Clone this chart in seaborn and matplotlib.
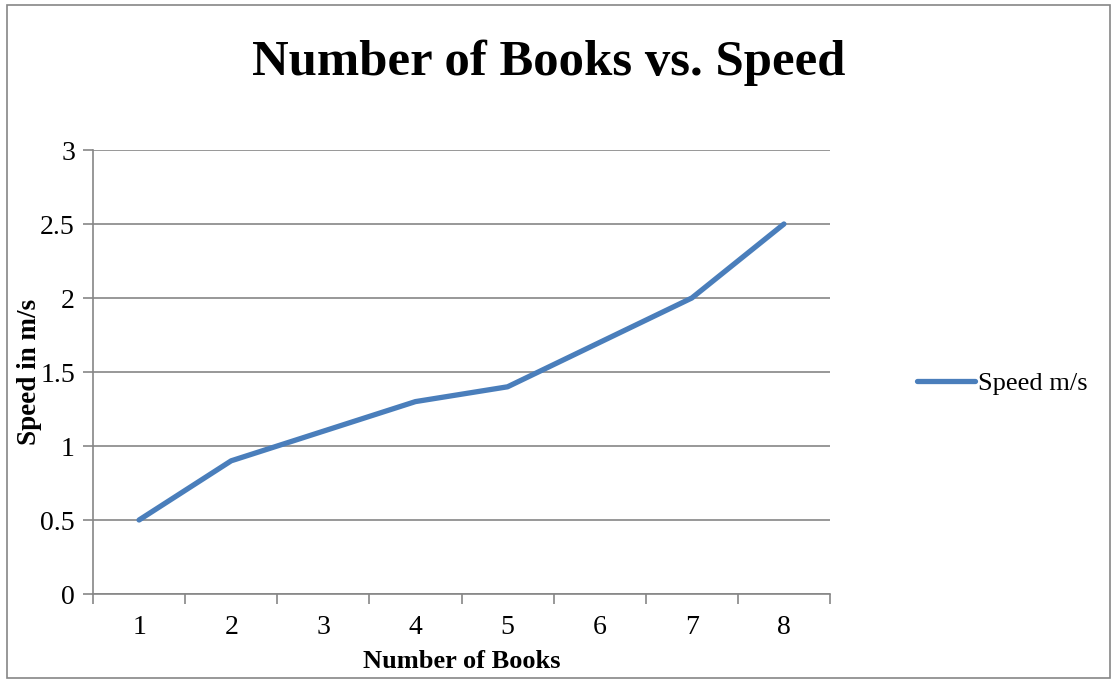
import matplotlib
matplotlib.use("Agg")
import matplotlib.pyplot as plt
import seaborn as sns
import pandas as pd
from matplotlib.lines import Line2D
from matplotlib.patches import Rectangle

books = [1, 2, 3, 4, 5, 6, 7, 8]
speed = [0.5, 0.9, 1.1, 1.3, 1.4, 1.7, 2.0, 2.5]
y_ticks = [0, 0.5, 1, 1.5, 2, 2.5, 3]
y_tick_labels = ["0", "0.5", "1", "1.5", "2", "2.5", "3"]

sns.set_style("white")
plt.rcParams['font.family'] = ['Liberation Serif', 'DejaVu Serif']
plt.rcParams['text.color'] = 'black'
plt.rcParams['axes.labelcolor'] = 'black'
plt.rcParams['xtick.color'] = 'black'
plt.rcParams['ytick.color'] = 'black'

df = pd.DataFrame({"Number of Books": books, "Speed m/s": speed})

fig = plt.figure(figsize=(11.16, 6.83), dpi=100)
ax = fig.add_axes([93/1116, 89/683, (830-93)/1116, (594-150)/683])

line_color = "#4a7ebb"
sns.lineplot(data=df, x="Number of Books", y="Speed m/s", ax=ax,
             color=line_color, linewidth=3.8, legend=False)
ax.lines[0].set_solid_capstyle("round")

ax.set_xlim(0.5, 8.5)
ax.set_ylim(0, 3)
ax.set_yticks(y_ticks)
ax.set_yticklabels(y_tick_labels)
ax.set_xticks(books)
ax.set_xticklabels([str(b) for b in books])
ax.set_xticks([b + 0.5 for b in range(0, 9)], minor=True)
ax.tick_params(axis='x', which='major', length=0, labelsize=20, pad=15, labelcolor='black')
ax.tick_params(axis='x', which='minor', length=7, width=1.2, color='#868686', direction='out')
ax.tick_params(axis='y', which='major', length=7, width=1.2, color='#868686', direction='out',
               labelsize=20, pad=6, labelcolor='black')
ax.xaxis.set_tick_params(bottom=True, which='both')
ax.yaxis.set_tick_params(left=True)

ax.grid(axis='y', color='#868686', linewidth=1.2)
ax.set_axisbelow(True)
for s in ['top', 'right']:
    ax.spines[s].set_visible(False)
for s in ['left', 'bottom']:
    ax.spines[s].set_color('#868686')
    ax.spines[s].set_linewidth(1.2)

ax.set_xlabel("Number of Books", fontsize=19, fontweight='bold', color='black')
ax.set_ylabel("Speed in m/s", fontsize=19.5, fontweight='bold', color='black')
ax.yaxis.set_label_coords(-0.069, 0.5)
ax.xaxis.set_label_coords(0.5, -0.127)

fig.text(549/1116, 1 - 63/683, "Number of Books vs. Speed", ha='center', va='center',
         fontsize=36.5, fontweight='bold', color='black')

handle = Line2D([0], [0], color=line_color, linewidth=3.8, solid_capstyle='round')
fig.legend([handle], ["Speed m/s"], loc='center left', bbox_to_anchor=(904/1116, 1 - 383/683),
           frameon=False, fontsize=19, handlelength=2.2, handletextpad=0.1, borderpad=0)

fig.patches.append(Rectangle((7/1116, 5/683), (1110-7)/1116, (678-5)/683,
                             transform=fig.transFigure, fill=False,
                             edgecolor='#868686', linewidth=1.2))

fig.savefig("out.png", dpi=100)
